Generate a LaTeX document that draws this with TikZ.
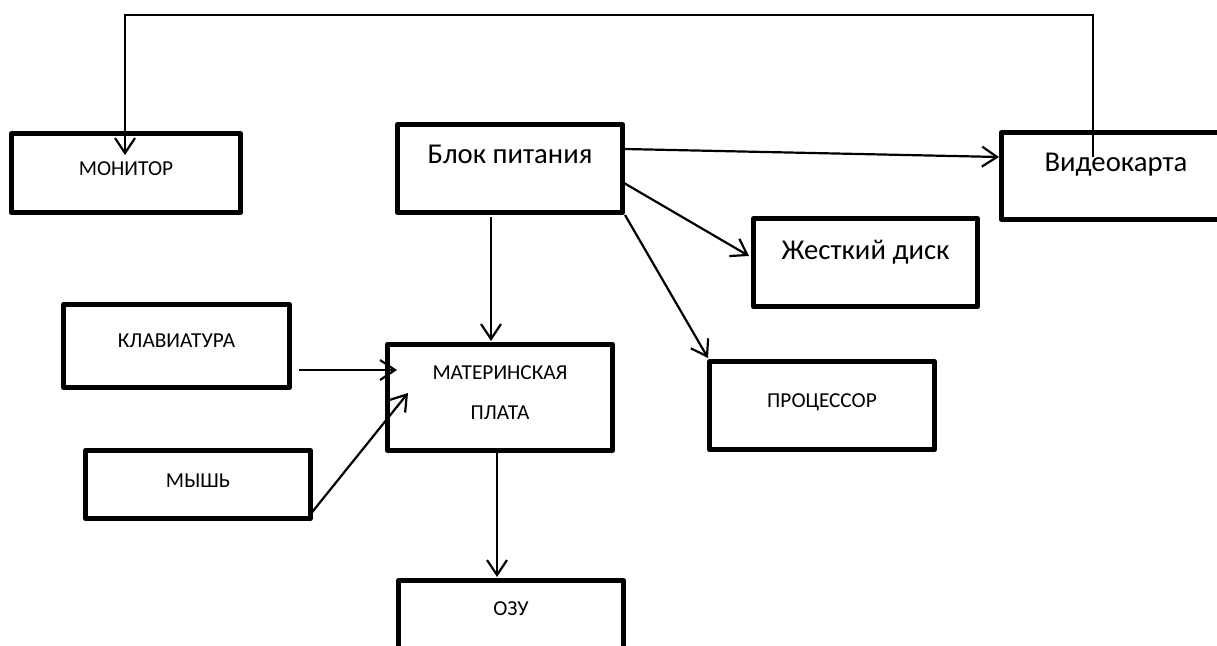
\documentclass[tikz,border=0pt]{standalone}
\usepackage{fontspec}
\setmainfont{Carlito}
\usetikzlibrary{arrows.meta,calc}

\newcommand{\smalltext}{\fontsize{21.3}{25}\selectfont}
\newcommand{\bigtext}{\fontsize{28.7}{34}\selectfont}

\tikzset{
  unitbox/.style={draw, rectangle, line width=5pt, line join=round,
    inner sep=0pt, outer sep=0pt, anchor=base, font=\smalltext},
  bigbox/.style={unitbox, font=\bigtext},
  conn/.style={line width=2.2pt, line join=miter,
    -{Straight Barb[length=15pt,width=20pt,line width=2.2pt]}},
}

\begin{document}
\begin{tikzpicture}[x=1pt,y=-1pt]
  \useasboundingbox (0,0) rectangle (1217,645);
  \clip (0,0) rectangle (1217,645);

  % component boxes (anchored at the text baseline)
  \node[unitbox, minimum width=229pt, text height=41.5pt, text depth=37.5pt] (mon) at (126,175) {МОНИТОР};
  \node[bigbox, minimum width=225pt, text height=38.5pt, text depth=49.5pt] (psu) at (510,163) {Блок питания};
  \node[bigbox, minimum width=229pt, text height=38.5pt, text depth=48.5pt] (vid) at (1116,171) {Видеокарта};
  \node[bigbox, minimum width=224pt, text height=40.5pt, text depth=47.5pt] (hdd) at (865.5,259) {Жесткий диск};
  \node[unitbox, minimum width=225pt, text height=45.5pt, text depth=42.5pt] (cpu) at (822,407) {ПРОЦЕССОР};
  \node[unitbox, minimum width=225pt, text height=34.5pt, text depth=71.5pt] (mb) at (500,379)
    {\vtop{\baselineskip=40pt\halign{\hfil#\hfil\cr МАТЕРИНСКАЯ\cr ПЛАТА\cr}}};
  \node[unitbox, minimum width=225pt, text height=34.5pt, text depth=85pt] (ram) at (511,615) {ОЗУ};
  \node[unitbox, minimum width=226pt, text height=42.5pt, text depth=40.5pt] (kb) at (176.5,347) {КЛАВИАТУРА};
  \node[unitbox, minimum width=225pt, text height=36.5pt, text depth=31.5pt] (mouse) at (198,487) {МЫШЬ};

  % video card to monitor, routed over the top
  \coordinate (top) at (0,15);
  \coordinate (vidout) at ($(vid.north)+(-23,24.5)$);
  \coordinate (monin) at ($(mon.north)+(-1,21.5)$);
  \draw[conn] (vidout) -- (vidout |- top) -- (monin |- top) -- (monin);

  % power supply feeds
  \draw[conn] ($(psu.east)+(2.5,-19.5)$) -- ($(vid.west)+(-2.5,-19)$);
  \draw[conn] ($(psu.east)+(1.5,14.5)$) -- ($(hdd.west)+(-4.5,-6.5)$);
  \draw[conn] ($(psu.south east)+(2.5,2.5)$) -- ($(cpu.north west)+(-1.5,-3.5)$);
  \draw[conn] ($(psu.south)+(-19,4.5)$) -- ($(mb.north)+(-9,-3.5)$);

  % peripherals into the motherboard
  \draw[conn] ($(kb.east)+(9.5,24)$) -- ($(mb.west)+(9.5,-27.5)$);
  \draw[conn] ($(mouse.south east)+(-3.5,0)$) -- ($(mb.west)+(20.5,-4.5)$);

  % motherboard to memory
  \draw[conn] ($(mb.south)+(-3,2.5)$) -- ($(ram.north)+(-14,-3.5)$);
\end{tikzpicture}
\end{document}
